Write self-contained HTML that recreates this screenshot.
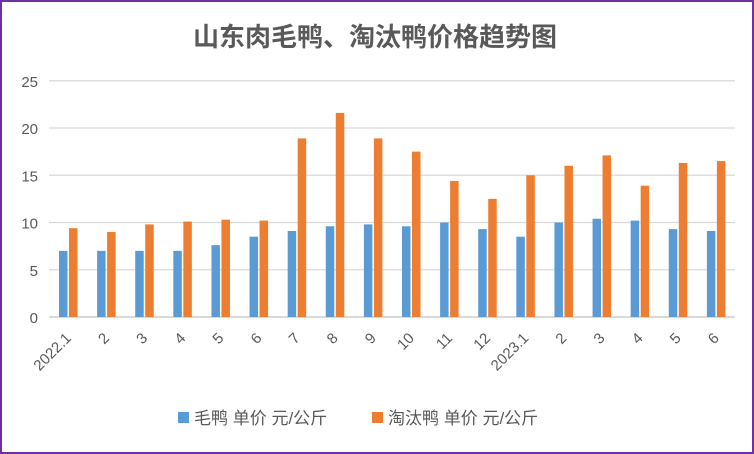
<!DOCTYPE html>
<html><head><meta charset="utf-8"><style>
body{margin:0;background:#fff}
#c{position:relative;width:754px;height:454px;box-sizing:border-box;border:2px solid #7030a0;background:#fff;font-family:"Liberation Sans","Noto Sans CJK SC",sans-serif}
</style></head><body>
<div id="c">
<svg id="s" width="750" height="450" style="position:absolute;left:0;top:0"></svg>
</div>
<script>
const categories=["2022.1","2","3","4","5","6","7","8","9","10","11","12","2023.1","2","3","4","5","6"];
const seriesNames=["毛鸭 单价 元/公斤","淘汰鸭 单价 元/公斤"];
const maoya=[7,7,7,7,7.6,8.5,9.1,9.6,9.8,9.6,10,9.3,8.5,10,10.4,10.2,9.3,9.1];
const taotai=[9.4,9,9.8,10.1,10.3,10.2,18.9,21.6,18.9,17.5,14.4,12.5,15,16,17.1,13.9,16.3,16.5];
const yTicks=[0,5,10,15,20,25];
const NS="http://www.w3.org/2000/svg";
const svg=document.getElementById('s');
const off=2;
const x0=49-off,x1=735-off,yb=317-off,ppu=9.45;
const yS=v=>yb-v*ppu;
const gw=(x1-x0)/categories.length;
function mk(t,a,txt){const e=document.createElementNS(NS,t);for(const k in a)e.setAttribute(k,a[k]);if(txt!==undefined)e.textContent=txt;svg.appendChild(e);return e;}
let t=mk('text',{x:375-off,y:46-off,'text-anchor':'middle','font-size':26,'font-weight':'bold',fill:'#595959'},'山东肉毛鸭、淘汰鸭价格趋势图');

yTicks.forEach(v=>{
 let l=mk('line',{x1:x0,x2:x1,y1:yS(v),y2:yS(v),stroke:'#d9d9d9','stroke-width':v===0?2:1.3});
 
 let tx=mk('text',{x:38-off,y:yS(v)+6,'text-anchor':'end','font-size':15,fill:'#595959'},v);
 
});
categories.forEach((c,i)=>{
 const gx=x0+i*gw;
 let b=mk('rect',{x:gx+10,y:yS(maoya[i]),width:8.5,height:maoya[i]*ppu,fill:'#5b9bd5'});
 
 let o=mk('rect',{x:gx+20,y:yS(taotai[i]),width:8.5,height:taotai[i]*ppu,fill:'#ed7d31'});
 
 const cx=gx+gw/2+4,cy=yb+22;
 let lt=mk('text',{x:cx,y:cy,'text-anchor':'end','font-size':15,fill:'#595959',transform:`rotate(-45 ${cx} ${cy})`},c);
 
});
const lg=[[178,'#5b9bd5',seriesNames[0]],[372,'#ed7d31',seriesNames[1]]];
lg.forEach(([x,col,n])=>{
 let r=mk('rect',{x:x-off,y:412-off,width:11,height:11,fill:col});
 
 let tx=mk('text',{x:x+16-off,y:424-off,'font-size':17,fill:'#595959'},n);
 
});
</script>
</body></html>
